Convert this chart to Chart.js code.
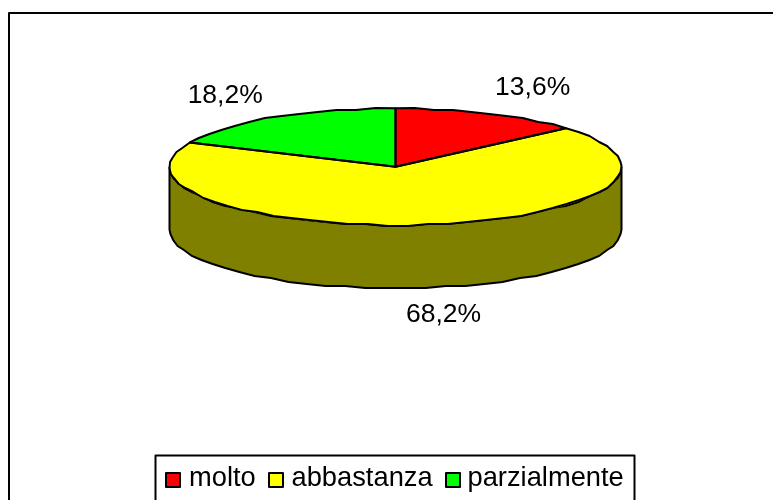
<!DOCTYPE html>
<html>
<head>
<meta charset="utf-8">
<title>Pie</title>
<script src="https://cdn.jsdelivr.net/npm/chart.js@4/dist/chart.umd.min.js"></script>
<style>
  html, body { margin: 0; padding: 0; background: #fff; overflow: hidden; }
  canvas { display: block; }
</style>
</head>
<body>
<canvas id="pie" width="773" height="500"></canvas>
<script>
const categories = ['molto', 'abbastanza', 'parzialmente'];
const values = [13.6, 68.2, 18.2];
const sliceColors = ['#ff0000', '#ffff00', '#00ff00'];
const sideColors = ['#800000', '#808000', '#008000'];

const FONT = '"Liberation Sans", Arial, sans-serif';
const RADIUS = 226;       // horizontal radius of the pie
const SQUASH = 58.5 / 226; // vertical flattening
const DEPTH = 63;

function arcs(chart) {
    return chart.getDatasetMeta(0).data;
}

// the old office renderer snaps its curves to a coarse grid, so do the same for the outlines
function traceEdge(ctx, arc, from, to, dy) {
    const rx = arc.outerRadius, ry = rx * SQUASH;
    const steps = Math.max(2, Math.ceil(Math.abs(to - from) / 0.09));
    for (let s = 0; s <= steps; s++) {
        const a = from + (to - from) * s / steps;
        const x = arc.x + rx * Math.cos(a);
        let y = arc.y + dy + ry * Math.sin(a);
        if (s > 0 && s < steps) y = Math.round(y / 2) * 2;
        ctx.lineTo(x, y);
    }
}

// flatten the round pie and draw the wall under it
const tilt = {
    id: 'tilt',
    beforeDatasetsDraw(chart) {
        const ctx = chart.ctx;
        arcs(chart).forEach((arc, i) => {
            const from = Math.max(arc.startAngle, 0);
            const to = Math.min(arc.endAngle, Math.PI);
            if (to <= from) return;
            ctx.beginPath();
            traceEdge(ctx, arc, from, to, 0);
            traceEdge(ctx, arc, to, from, DEPTH);
            ctx.closePath();
            ctx.fillStyle = sideColors[i];
            ctx.fill();
            ctx.lineWidth = 2;
            ctx.strokeStyle = '#000';
            ctx.stroke();
        });
        const first = arcs(chart)[0];
        ctx.save();
        ctx.translate(first.x, first.y);
        ctx.scale(1, SQUASH);
        ctx.translate(-first.x, -first.y);
    },
    afterDatasetsDraw(chart) {
        const ctx = chart.ctx;
        ctx.restore();
        // outlines go here so the line width is not squashed too
        ctx.lineWidth = 2;
        ctx.strokeStyle = '#000';
        ctx.lineJoin = 'round';
        arcs(chart).forEach(arc => {
            ctx.beginPath();
            ctx.moveTo(arc.x, arc.y);
            traceEdge(ctx, arc, arc.startAngle, arc.endAngle, 0);
            ctx.closePath();
            ctx.stroke();
        });
    }
};

// percent labels, frame and legend box
const extras = {
    id: 'extras',
    afterDraw(chart) {
        const ctx = chart.ctx;
        const labelOffsets = [[43.5, -18], [15.5, 97], [-48, -15]];
        ctx.fillStyle = '#000';
        ctx.font = '26.5px ' + FONT;
        ctx.textAlign = 'center';
        ctx.textBaseline = 'alphabetic';
        arcs(chart).forEach((arc, i) => {
            const mid = (arc.startAngle + arc.endAngle) / 2;
            const x = arc.x + arc.outerRadius * Math.cos(mid) + labelOffsets[i][0];
            const y = arc.y + arc.outerRadius * SQUASH * Math.sin(mid) + labelOffsets[i][1];
            ctx.fillText(String(values[i]).replace('.', ',') + '%', x, y);
        });

        ctx.strokeStyle = '#000';
        ctx.lineWidth = 2;
        ctx.beginPath();
        ctx.moveTo(9, 500);
        ctx.lineTo(9, 13);
        ctx.lineTo(773, 13);
        ctx.stroke();

        ctx.beginPath();
        ctx.moveTo(155.5, 500);
        ctx.lineTo(155.5, 455.5);
        ctx.lineTo(634.5, 455.5);
        ctx.lineTo(634.5, 500);
        ctx.stroke();

        const boxX = [166, 269, 446];
        const textX = [189, 291.5, 467.5];
        ctx.font = '27.3px ' + FONT;
        ctx.textAlign = 'left';
        categories.forEach((name, i) => {
            ctx.fillStyle = sliceColors[i];
            ctx.fillRect(boxX[i], 473, 14, 14);
            ctx.strokeRect(boxX[i], 473, 14, 14);
            ctx.fillStyle = '#000';
            ctx.fillText(name, textX[i], 486);
        });
    }
};

new Chart(document.getElementById('pie'), {
    type: 'pie',
    data: {
        labels: categories,
        datasets: [{
            data: values,
            backgroundColor: sliceColors,
            borderWidth: 0,
            clip: false
        }]
    },
    options: {
        responsive: false,
        animation: false,
        radius: RADIUS,
        layout: { padding: { left: 18, bottom: 166.6 } },
        plugins: { legend: { display: false }, tooltip: { enabled: false } }
    },
    plugins: [tilt, extras]
});
</script>
</body>
</html>
